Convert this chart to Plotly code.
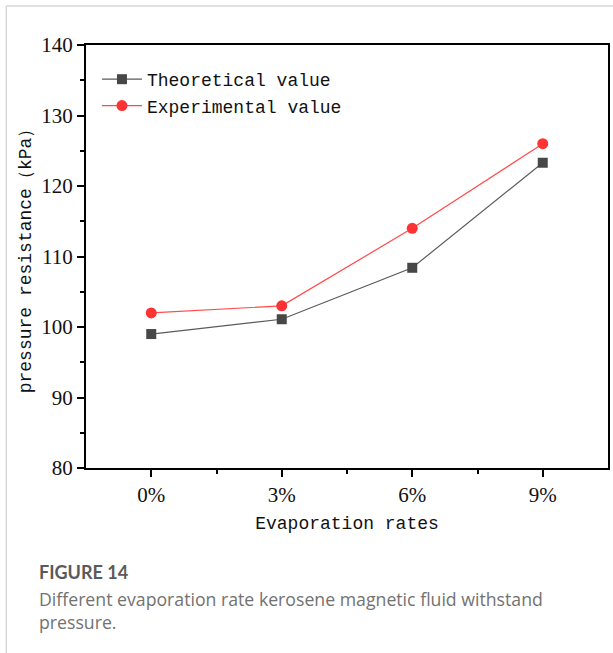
import plotly.graph_objects as go

# Evaporation rate categories and pressure resistance (kPa)
categories = ["0%", "3%", "6%", "9%"]
theoretical = [99.0, 101.1, 108.4, 123.3]
experimental = [102.0, 103.0, 114.0, 126.0]
y_ticks = [80, 90, 100, 110, 120, 130, 140]

W, H = 613, 653
ML, MR, MT, MB = 86, 3, 45, 185
PW, PH = W - ML - MR, H - MT - MB


def px_x(px):
    return (px - ML) / PW


def px_y(py):
    return (H - MB - py) / PH


xs = list(range(len(categories)))

fig = go.Figure()
fig.add_trace(go.Scatter(
    x=xs, y=theoretical, name="Theoretical value", mode="lines+markers",
    line=dict(color="#5a5a5a", width=1.2),
    marker=dict(symbol="square", size=10, color="#474747"),
))
fig.add_trace(go.Scatter(
    x=xs, y=experimental, name="Experimental value", mode="lines+markers",
    line=dict(color="#ff4a4a", width=1.2),
    marker=dict(symbol="circle", size=11, color="#ff3333"),
))

tick_font = dict(family="Liberation Serif", size=21, color="#111111")
mono = "Liberation Mono"

fig.update_xaxes(
    range=[-0.5, 3.5], tickvals=xs, ticktext=categories,
    showline=True, linecolor="#000000", linewidth=2, mirror=True,
    ticks="outside", ticklen=7, tickwidth=1.5, tickcolor="#000000",
    minor=dict(tickvals=[0.5, 1.5, 2.5], ticks="outside", ticklen=4,
               tickwidth=1.5, tickcolor="#000000"),
    showgrid=False, zeroline=False, tickfont=tick_font,
    title=dict(text="Evaporation rates", font=dict(family=mono, size=18, color="#111111"),
               standoff=10),
)
fig.update_yaxes(
    range=[80, 140], tickvals=y_ticks,
    showline=True, linecolor="#000000", linewidth=2, mirror=True,
    ticks="outside", ticklen=7, tickwidth=1.5, tickcolor="#000000",
    minor=dict(dtick=5, tick0=85, ticks="outside", ticklen=4,
               tickwidth=1.5, tickcolor="#000000", showgrid=False),
    showgrid=False, zeroline=False, tickfont=tick_font,
    title=dict(text="pressure resistance（kPa）", font=dict(family=mono, size=18, color="#111111"),
               standoff=5),
)

fig.update_layout(
    width=W, height=H,
    margin=dict(l=ML, r=MR, t=MT, b=MB),
    paper_bgcolor="white", plot_bgcolor="white",
    showlegend=True,
    legend=dict(x=px_x(97), y=px_y(61), xanchor="left", yanchor="top",
                bgcolor="rgba(0,0,0,0)", font=dict(family=mono, size=18, color="#111111"),
                tracegroupgap=0, itemwidth=40),
    shapes=[
        # light frame around the figure panel
        dict(type="line", xref="paper", yref="paper",
             x0=px_x(6), x1=px_x(6), y0=px_y(6), y1=px_y(660),
             line=dict(color="#d6d6d6", width=1.5)),
        dict(type="line", xref="paper", yref="paper",
             x0=px_x(6), x1=px_x(620), y0=px_y(6), y1=px_y(6),
             line=dict(color="#d6d6d6", width=1.5)),
    ],
    annotations=[
        dict(text="<b>FIGURE 14</b>", xref="paper", yref="paper",
             x=px_x(37), y=px_y(572), xanchor="left", yanchor="middle",
             showarrow=False, font=dict(family="Lato", size=18, color="#5a5a5a")),
        dict(text="Different evaporation rate kerosene magnetic fluid withstand<br>pressure.",
             xref="paper", yref="paper", align="left",
             x=px_x(37), y=px_y(585), xanchor="left", yanchor="top",
             showarrow=False, font=dict(family="Open Sans", size=17.7, color="#727272")),
    ],
)

fig.write_html("out.html")
